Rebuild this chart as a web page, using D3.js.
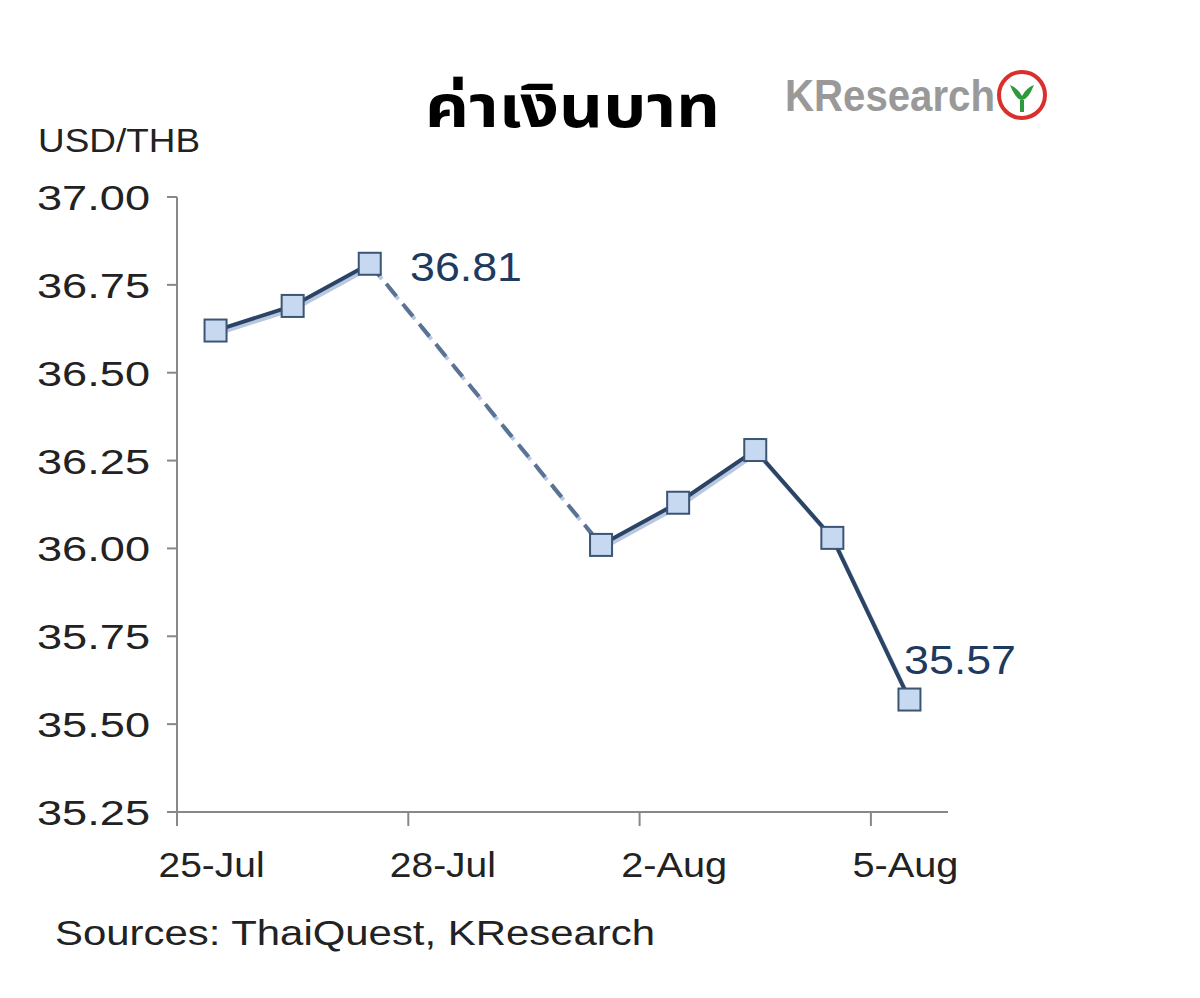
<!DOCTYPE html>
<html><head><meta charset="utf-8">
<script src="https://cdn.jsdelivr.net/npm/d3@7"></script>
<style>body{margin:0;background:#fff}</style></head>
<body><svg width="1200" height="998"></svg>
<script>
// slots of the category axis; only some carry a label
var slots = ["25-Jul","26-Jul","27-Jul","28-Jul","29-Jul","1-Aug","2-Aug","3-Aug","4-Aug","5-Aug"]
var tickLabels = ["25-Jul","28-Jul","2-Aug","5-Aug"]
var values = [36.62, 36.69, 36.81, null, null, 36.01, 36.13, 36.28, 36.03, 35.57]
var yTicks = [35.25, 35.50, 35.75, 36.00, 36.25, 36.50, 36.75, 37.00]

var svg = d3.select("svg")
var x = d3.scaleBand().domain(slots).range([177, 948])
var y = d3.scaleLinear().domain([35.25, 37]).range([812, 197])
var cx = d => x(d) + x.bandwidth() / 2
var font = "Liberation Sans, Arial"

// axes
svg.append("line").attr("x1", 177).attr("x2", 177).attr("y1", 197).attr("y2", 812).attr("stroke", "#888").attr("stroke-width", 2)
svg.append("line").attr("x1", 177).attr("x2", 948).attr("y1", 812).attr("y2", 812).attr("stroke", "#888").attr("stroke-width", 2)
svg.selectAll(".yt").data(yTicks).enter().append("line")
    .attr("x1", 167).attr("x2", 177).attr("y1", d => y(d)).attr("y2", d => y(d)).attr("stroke", "#888").attr("stroke-width", 2)
svg.selectAll(".yl").data(yTicks).enter().append("text")
    .attr("x", 37).attr("y", d => y(d) + 13)
    .attr("font-family", font).attr("font-size", 35).attr("fill", "#222")
    .attr("textLength", 113).attr("lengthAdjust", "spacingAndGlyphs")
    .text(d => d.toFixed(2))
svg.selectAll(".xt").data(tickLabels).enter().append("line")
    .attr("x1", d => x(d)).attr("x2", d => x(d)).attr("y1", 812).attr("y2", 826).attr("stroke", "#888").attr("stroke-width", 2)
svg.selectAll(".xl").data(tickLabels).enter().append("text")
    .attr("x", d => cx(d) - 4).attr("y", 877).attr("text-anchor", "middle")
    .attr("font-family", font).attr("font-size", 35).attr("fill", "#222")
    .attr("textLength", d => d.length > 5 ? 106 : 106).attr("lengthAdjust", "spacingAndGlyphs")
    .text(d => d)

var pts = slots.map((s, i) => ({ s: s, v: values[i] })).filter(d => d.v != null)
var line = d3.line().x(d => cx(d.s)).y(d => y(d.v))
var seg1 = pts.slice(0, 3), gap = pts.slice(2, 4), seg2 = pts.slice(3)

function drawLine(data, dash) {
    svg.append("path").attr("d", line(data)).attr("fill", "none").attr("stroke", "#b8c8e0").attr("stroke-width", 4)
        .attr("transform", "translate(2,3)").attr("stroke-dasharray", dash)
    svg.append("path").attr("d", line(data)).attr("fill", "none").attr("stroke", dash ? "#5a7294" : "#2b4466").attr("stroke-width", 4)
        .attr("stroke-dasharray", dash)
}
drawLine(seg1, null)
drawLine(gap, "16,10")
drawLine(seg2, null)

svg.selectAll(".pt").data(pts).enter().append("rect")
    .attr("x", d => cx(d.s) - 11).attr("y", d => y(d.v) - 11).attr("width", 22).attr("height", 22)
    .attr("fill", "#c6d9f1").attr("stroke", "#3c5575").attr("stroke-width", 2)

svg.append("text").attr("x", 410).attr("y", 281).attr("font-family", font).attr("font-size", 40)
    .attr("fill", "#1f3a5f").attr("textLength", 112).attr("lengthAdjust", "spacingAndGlyphs").text("36.81")
svg.append("text").attr("x", 904).attr("y", 674).attr("font-family", font).attr("font-size", 40)
    .attr("fill", "#1f3a5f").attr("textLength", 112).attr("lengthAdjust", "spacingAndGlyphs").text("35.57")

// titles
svg.append("text").attr("x", 425).attr("y", 127)
    .attr("font-family", "Noto Sans Thai, Noto Sans, DejaVu Sans").attr("font-weight", "bold").attr("font-size", 58)
    .attr("textLength", 295).attr("lengthAdjust", "spacingAndGlyphs").text("ค่าเงินบาท")
svg.append("text").attr("x", 38).attr("y", 152).attr("font-family", font).attr("font-size", 33).attr("fill", "#222")
    .attr("textLength", 162).attr("lengthAdjust", "spacingAndGlyphs").text("USD/THB")
svg.append("text").attr("x", 55).attr("y", 945).attr("font-family", font).attr("font-size", 35).attr("fill", "#222")
    .attr("textLength", 600).attr("lengthAdjust", "spacingAndGlyphs").text("Sources: ThaiQuest, KResearch")

// logo
svg.append("text").attr("x", 785).attr("y", 111).attr("font-family", "Liberation Sans Narrow, Liberation Sans").attr("font-weight", "bold")
    .attr("font-size", 44).attr("fill", "#999").attr("textLength", 210).attr("lengthAdjust", "spacingAndGlyphs").text("KResearch")
svg.append("circle").attr("cx", 1022).attr("cy", 95).attr("r", 23).attr("fill", "#fff").attr("stroke", "#d9302c").attr("stroke-width", 4)
svg.append("path").attr("d", "M1010,85 Q1016,100 1022,100 Q1028,100 1034,85 Q1026,88 1022,96 Q1018,88 1010,85 Z M1020,100 L1020,112 L1024,112 L1024,100 Z").attr("fill", "#2e9a3c")
</script></body></html>
